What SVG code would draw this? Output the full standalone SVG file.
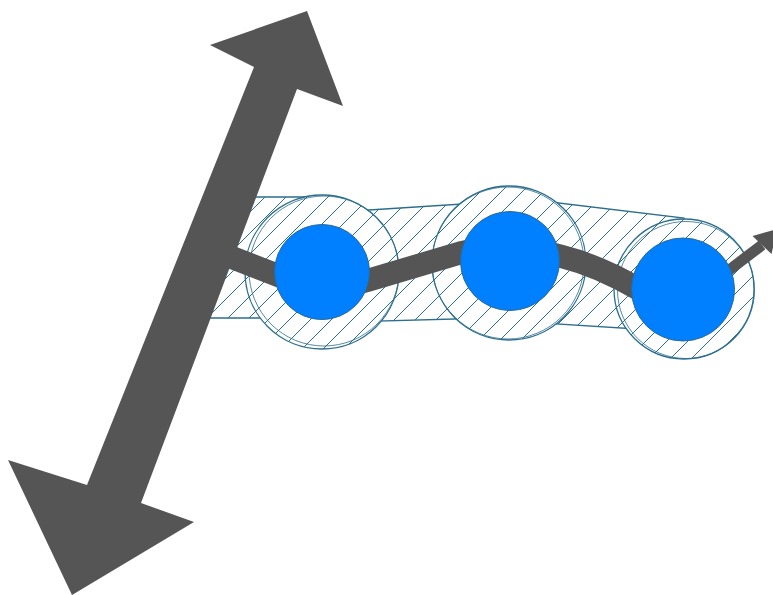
<svg xmlns="http://www.w3.org/2000/svg" width="773" height="595" viewBox="0 0 773 595">
  <style>
    .hatch { fill: url(#hatch); stroke: #2b6e8e; stroke-width: 1.3; }
    .ring { fill: url(#hatch); stroke: #2b6e8e; stroke-width: 1.3; }
    .ring2 { fill: none; stroke: #2b6e8e; stroke-width: 1; opacity: 0.8; }
    .dot { fill: #007fff; stroke: #2a6a96; stroke-width: 1; }
    .conn { fill: none; stroke: #555555; stroke-linejoin: round; }
    .arrow { fill: #555555; }
  </style>
  <defs>
    <pattern id="hatch" patternUnits="userSpaceOnUse" width="21" height="21">
      <rect width="21" height="21" fill="#ffffff"/>
      <path d="M -5 5 L 5 -5 M 0 21 L 21 0 M 16 26 L 26 16" stroke="#2b6e8e" stroke-width="1"/>
    </pattern>
  </defs>
  <rect width="773" height="595" fill="#ffffff"/>

  <g id="band">
    <polygon class="hatch" points="228,197 322,197 322,318 182,318"/>
    <polygon class="hatch" points="322,213 509,201 509,317.5 322,322.7"/>
    <polygon class="hatch" points="509,197 684,218 684,332 509,321"/>
  </g>

  <g id="rings">
    <g id="ring1">
      <circle class="ring" cx="322" cy="272" r="77"/>
      <circle class="ring2" cx="324" cy="271" r="75"/>
    </g>
    <g id="ring2">
      <circle class="ring" cx="509" cy="263" r="77"/>
      <circle class="ring2" cx="508" cy="263" r="76"/>
    </g>
    <g id="ring3">
      <circle class="ring" cx="684" cy="289" r="70"/>
      <circle class="ring2" cx="686" cy="290" r="68.5"/>
    </g>
  </g>

  <g id="connectors">
    <path class="conn" stroke-width="23" d="M 228 256 L 300 284 Q 330 292 369 280 L 460 253 Q 510 240 560 256 Q 600 266 640 290 L 683 300"/>
    <path class="conn" stroke-width="11" d="M 690 300 L 762 245"/>
    <polygon class="arrow" points="777,229 771.5,254 752.5,236"/>
  </g>

  <g id="node1"><circle class="dot" cx="322" cy="272" r="47.5"/></g>
  <g id="node2"><circle class="dot" cx="510" cy="261" r="49.5"/></g>
  <g id="node3"><circle class="dot" cx="683" cy="289.5" r="51.5"/></g>

  <g id="double-arrow">
    <polygon class="arrow" points="307,11 343,106 297,89 141,503 194,522 72,595 8,460 87,485 254,67 210,45"/>
  </g>
</svg>
